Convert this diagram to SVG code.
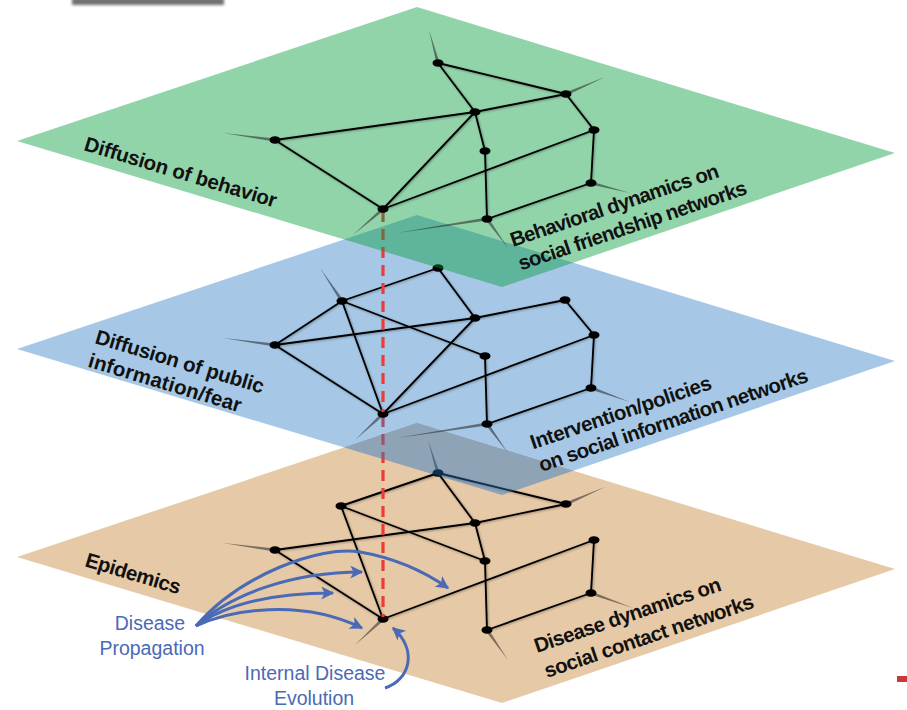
<svg xmlns="http://www.w3.org/2000/svg" width="907" height="710" viewBox="0 0 907 710">
<style>
.e{stroke:#000;stroke-width:1.85;fill:none;stroke-linecap:round}
.w{fill:#222;fill-opacity:.55}
.n{fill:#000}
.lb{font-family:"Liberation Sans",Arial,sans-serif;font-weight:bold;font-size:20.5px;fill:#111}
.bt{font-family:"Liberation Sans",Arial,sans-serif;font-size:19.5px;fill:#4a6ab6;text-anchor:middle}
.ar{stroke:#4a6ab6;stroke-width:3;fill:none;marker-end:url(#ah)}
.rd{stroke:#ee3b36;stroke-width:3.2;stroke-dasharray:11 7;fill:none}
</style>
<defs>
<filter id="sh" x="-10%" y="-10%" width="120%" height="120%">
<feDropShadow dx="0.8" dy="0.8" stdDeviation="0.8" flood-color="#000" flood-opacity="0.35"/>
</filter>
<filter id="bl" x="-20%" y="-200%" width="140%" height="500%">
<feGaussianBlur stdDeviation="1.8"/>
</filter>
<marker id="ah" viewBox="0 0 10 10" refX="9" refY="5" markerUnits="userSpaceOnUse" markerWidth="18" markerHeight="13" orient="auto">
<path d="M0,0 L10,5 L0,10 L2.5,5 z" fill="#4a6ab6"/>
</marker>
</defs>

<rect x="72" y="-2" width="152" height="7" fill="#6e6e6e" filter="url(#bl)"/>
<rect x="897" y="676" width="10" height="6" fill="#c8393b"/>

<!-- Epidemics plane -->
<g id="plane-epidemics">
<polygon points="17,557 417,423 895,569 502,703" fill="#e6c9a6"/>
<polygon points="417,423 344,447.5 502,495 573.2,470.7" fill="#d9c1af"/>
</g>

<g id="connectors-epidemics" filter="url(#sh)">
<line class="e" x1="438" y1="473" x2="341" y2="506"/>
<line class="e" x1="438" y1="473" x2="566" y2="504"/>
<line class="e" x1="438" y1="473" x2="475" y2="523"/>
<line class="e" x1="475" y1="523" x2="566" y2="504"/>
<line class="e" x1="275" y1="550" x2="475" y2="523"/>
<line class="e" x1="275" y1="550" x2="383" y2="619"/>
<line class="e" x1="341" y1="506" x2="383" y2="619"/>
<line class="e" x1="341" y1="506" x2="485" y2="561"/>
<line class="e" x1="475" y1="523" x2="485" y2="561"/>
<line class="e" x1="383" y1="619" x2="594" y2="540"/>
<line class="e" x1="594" y1="540" x2="591" y2="593"/>
<line class="e" x1="485" y1="561" x2="487" y2="630"/>
<line class="e" x1="591" y1="593" x2="487" y2="630"/>
</g>
<g id="o-A"><polygon class="w" points="275.2,548.4 274.8,551.6 223,543"/><ellipse class="n" cx="275" cy="550" rx="5.5" ry="3.8"/></g>
<g id="o-B"><polygon class="w" points="381.9,617.8 384.1,620.2 355,645"/><ellipse class="n" cx="383" cy="619" rx="5.5" ry="3.8"/></g>
<g id="o-C"><polygon class="w" points="439.5,472.5 436.5,473.5 428,440"/><ellipse class="n" cx="438" cy="473" rx="5.5" ry="3.8"/></g>
<g id="o-J"><ellipse class="n" cx="341" cy="506" rx="5.5" ry="3.8"/></g>
<g id="o-D"><ellipse class="n" cx="475" cy="523" rx="5.5" ry="3.8"/></g>
<g id="o-E"><polygon class="w" points="566.6,505.5 565.4,502.5 605,487"/><ellipse class="n" cx="566" cy="504" rx="5.5" ry="3.8"/></g>
<g id="o-F"><ellipse class="n" cx="594" cy="540" rx="5.5" ry="3.8"/></g>
<g id="o-G"><ellipse class="n" cx="485" cy="561" rx="5.5" ry="3.8"/></g>
<g id="o-H"><polygon class="w" points="590.5,594.5 591.5,591.5 633,608"/><ellipse class="n" cx="591" cy="593" rx="5.5" ry="3.8"/></g>
<g id="o-I"><polygon class="w" points="485.7,630.9 488.3,629.1 508,660"/><ellipse class="n" cx="487" cy="630" rx="5.5" ry="3.8"/></g>

<line class="rd" x1="383" y1="416" x2="383" y2="617"/>

<!-- Information plane -->
<g id="plane-information">
<polygon points="17,349 417,215 895,361 502,495" fill="rgb(34,119,193)" fill-opacity="0.403"/>
</g>

<g id="connectors-information" filter="url(#sh)">
<line class="e" x1="342" y1="301" x2="438" y2="268"/>
<line class="e" x1="342" y1="301" x2="275" y2="345"/>
<line class="e" x1="342" y1="301" x2="383" y2="414"/>
<line class="e" x1="342" y1="301" x2="485" y2="356"/>
<line class="e" x1="275" y1="345" x2="475" y2="318"/>
<line class="e" x1="275" y1="345" x2="383" y2="414"/>
<line class="e" x1="383" y1="414" x2="475" y2="318"/>
<line class="e" x1="383" y1="414" x2="594" y2="335"/>
<line class="e" x1="438" y1="268" x2="475" y2="318"/>
<line class="e" x1="475" y1="318" x2="565" y2="300"/>
<line class="e" x1="565" y1="300" x2="594" y2="335"/>
<line class="e" x1="594" y1="335" x2="591" y2="388"/>
<line class="e" x1="485" y1="356" x2="487" y2="424"/>
<line class="e" x1="591" y1="388" x2="487" y2="424"/>
</g>
<g id="i-A"><polygon class="w" points="275.2,343.4 274.8,346.6 223,338"/><ellipse class="n" cx="275" cy="345" rx="5.5" ry="3.8"/></g>
<g id="i-B"><polygon class="w" points="381.9,412.8 384.1,415.2 355,440"/><ellipse class="n" cx="383" cy="414" rx="5.5" ry="3.8"/></g>
<g id="i-J"><polygon class="w" points="343.3,300.1 340.7,301.9 320,268"/><ellipse class="n" cx="342" cy="301" rx="5.5" ry="3.8"/></g>
<g id="i-C"><ellipse class="n" cx="438" cy="268" rx="5.5" ry="3.8"/></g>
<g id="i-D"><ellipse class="n" cx="475" cy="318" rx="5.5" ry="3.8"/></g>
<g id="i-E"><ellipse class="n" cx="565" cy="300" rx="5.5" ry="3.8"/></g>
<g id="i-F"><ellipse class="n" cx="594" cy="335" rx="5.5" ry="3.8"/></g>
<g id="i-G"><ellipse class="n" cx="485" cy="356" rx="5.5" ry="3.8"/></g>
<g id="i-H"><polygon class="w" points="590.5,389.5 591.5,386.5 630,402"/><ellipse class="n" cx="591" cy="388" rx="5.5" ry="3.8"/></g>
<g id="i-I"><polygon class="w" points="485.7,424.9 488.3,423.1 508,453"/><polygon class="w" points="486.8,422.4 487.2,425.6 397,438"/><ellipse class="n" cx="487" cy="424" rx="5.5" ry="3.8"/></g>

<line class="rd" x1="383" y1="211" x2="383" y2="412"/>

<!-- Behavior plane -->
<g id="plane-behavior">
<polygon points="17,141 417,7 895,153 502,287" fill="rgb(0,155,55)" fill-opacity="0.429"/>
</g>

<g id="connectors-behavior" filter="url(#sh)">
<line class="e" x1="438" y1="63" x2="475" y2="112"/>
<line class="e" x1="438" y1="63" x2="566" y2="94"/>
<line class="e" x1="475" y1="112" x2="566" y2="94"/>
<line class="e" x1="566" y1="94" x2="594" y2="130"/>
<line class="e" x1="275" y1="140" x2="475" y2="112"/>
<line class="e" x1="275" y1="140" x2="383" y2="209"/>
<line class="e" x1="383" y1="209" x2="475" y2="112"/>
<line class="e" x1="383" y1="209" x2="594" y2="130"/>
<line class="e" x1="475" y1="112" x2="485" y2="151"/>
<line class="e" x1="485" y1="151" x2="487" y2="219"/>
<line class="e" x1="594" y1="130" x2="591" y2="183"/>
<line class="e" x1="591" y1="183" x2="487" y2="219"/>
</g>
<g id="b-A"><polygon class="w" points="275.2,138.4 274.8,141.6 223,133"/><ellipse class="n" cx="275" cy="140" rx="5.5" ry="3.8"/></g>
<g id="b-B"><polygon class="w" points="382,207.8 384,210.2 353,235"/><ellipse class="n" cx="383" cy="209" rx="5.5" ry="3.8"/></g>
<g id="b-C"><polygon class="w" points="439.5,62.6 436.5,63.4 429,30"/><ellipse class="n" cx="438" cy="63" rx="5.5" ry="3.8"/></g>
<g id="b-D"><ellipse class="n" cx="475" cy="112" rx="5.5" ry="3.8"/></g>
<g id="b-E"><polygon class="w" points="566.6,95.5 565.4,92.5 605,77"/><ellipse class="n" cx="566" cy="94" rx="5.5" ry="3.8"/></g>
<g id="b-F"><ellipse class="n" cx="594" cy="130" rx="5.5" ry="3.8"/></g>
<g id="b-G"><ellipse class="n" cx="485" cy="151" rx="5.5" ry="3.8"/></g>
<g id="b-H"><polygon class="w" points="590.6,184.5 591.4,181.5 630,193"/><ellipse class="n" cx="591" cy="183" rx="5.5" ry="3.8"/></g>
<g id="b-I"><polygon class="w" points="485.7,219.9 488.3,218.1 508,248"/><polygon class="w" points="486.8,217.4 487.2,220.6 397,233"/><ellipse class="n" cx="487" cy="219" rx="5.5" ry="3.8"/></g>

<!-- Labels -->
<g id="labels">
<text class="lb" x="83" y="150" textLength="200" transform="rotate(16.75 83 150)">Diffusion of behavior</text>
<text class="lb" x="513" y="247" textLength="219" transform="rotate(-18.7 513 247)">Behavioral dynamics on</text>
<text class="lb" x="521" y="270.5" textLength="240" transform="rotate(-18.7 521 270.5)">social friendship networks</text>
<text class="lb" x="94" y="343" textLength="175" transform="rotate(16.75 94 343)">Diffusion of public</text>
<text class="lb" x="87" y="366.5" textLength="159" transform="rotate(16.75 87 366.5)">information/fear</text>
<text class="lb" x="533" y="449.5" textLength="190" transform="rotate(-18.7 533 449.5)">Intervention/policies</text>
<text class="lb" x="541.5" y="472" textLength="283" transform="rotate(-18.7 541.5 472)">on social information networks</text>
<text class="lb" x="84" y="566" textLength="98.5" transform="rotate(16.75 84 566)">Epidemics</text>
<text class="lb" x="537" y="653" textLength="196" transform="rotate(-18.7 537 653)">Disease dynamics on</text>
<text class="lb" x="547" y="678" textLength="220" transform="rotate(-18.7 547 678)">social contact networks</text>
</g>

<!-- Disease arrows -->
<g id="connectors-disease">
<path class="ar" d="M196,626 C240,575 320,545 360,552 C395,558 425,572 448,588"/>
<path class="ar" d="M196,626 C230,595 290,572 362,572"/>
<path class="ar" d="M196,626 C225,605 270,593 333,593"/>
<path class="ar" d="M196,626 C230,610 300,598 362,628"/>
<path class="ar" d="M385,688 C410,680 418,650 393,628"/>
</g>
<g id="disease-propagation">
<text class="bt" x="150" y="630">Disease</text>
<text class="bt" x="152" y="655">Propagation</text>
</g>
<g id="internal-evolution">
<text class="bt" x="315" y="680">Internal Disease</text>
<text class="bt" x="314" y="705">Evolution</text>
</g>
</svg>
